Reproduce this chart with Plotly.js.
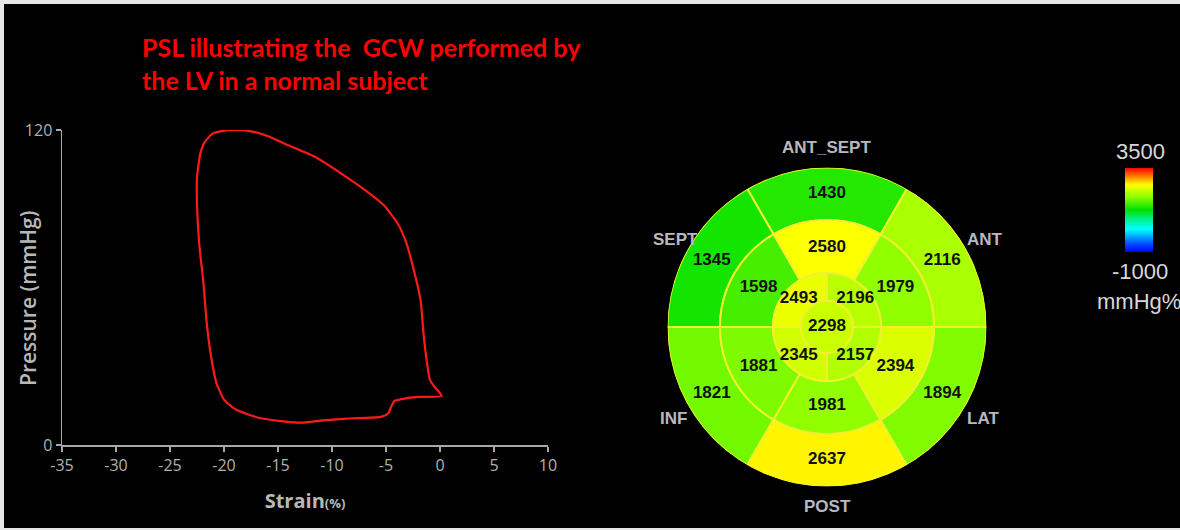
<!DOCTYPE html>
<html>
<head>
<meta charset="utf-8">
<script src="https://cdn.plot.ly/plotly-3.0.1.min.js"></script>
<style>
  html, body { margin: 0; padding: 0; background: #ffffff; }
  #chart { width: 1180px; height: 530px; }
</style>
</head>
<body>
<div id="chart"></div>
<script>
// ---------- Pressure-strain loop ----------
const strain = [-18.9, -17.5, -16.1, -14.0, -11.5, -9.1, -6.9, -5.2, -3.9, -3.1, -2.35, -1.8, -1.5, -1.2, -0.95, -0.65,
  0.15, -2.0, -3.4, -4.2, -4.5, -4.8, -5.5, -8.4, -10.8, -12.8, -14.7, -16.8, -18.9, -20.0, -20.7, -21.2, -21.6,
  -21.9, -22.3, -22.5, -22.5, -22.2, -21.8, -21.1, -20.35, -18.9];
const pressure = [120.0, 119.5, 117.9, 114.1, 109.6, 103.3, 97.0, 91.3, 84.3, 76.8, 65.4, 55.3, 41.3, 31.2, 25.0, 22.9,
  18.7, 18.3, 17.6, 16.8, 14.8, 12.0, 10.7, 10.1, 9.4, 8.5, 9.1, 10.4, 13.5, 17.3, 23.6, 33.8, 46.4,
  61.6, 76.8, 91.9, 102.0, 110.9, 115.3, 118.5, 119.5, 120.0];
const strainTicks = [-35, -30, -25, -20, -15, -10, -5, 0, 5, 10];
const pressureTicks = [0, 120];
const xTitle = 'Strain';
const xUnit = '(%)';
const yTitle = 'Pressure (mmHg)';

// ---------- Bull's-eye (constructive work, mmHg%) ----------
const sixAngles = [30, 90, 150, 210, 270, 330];
const fourAngles = [45, 135, 225, 315];
const wallNames = ['ANT', 'ANT_SEPT', 'SEPT', 'INF', 'POST', 'LAT'];
const basalValues = [2116, 1430, 1345, 1821, 2637, 1894];
const midValues = [1979, 2580, 1598, 1881, 1981, 2394];
const apicalValues = [2196, 2493, 2345, 2157];
const apexValue = 2298;
const colorMin = -1000;
const colorMax = 3500;
const colorUnit = 'mmHg%';

// ring geometry (pixels of polar radius)
const R_APEX = 26, R_API = 54, R_MID = 107, R_OUT = 159.5;

const W = 1180, H = 530;
const px = x => x / W;
const py = y => 1 - y / H;

const cs = [
  [0.00, '#0000ff'], [0.10, '#0050ff'], [0.27, '#00ffff'], [0.40, '#00f080'],
  [0.50, '#00e000'], [0.66, '#90ff00'], [0.80, '#ffff00'], [0.90, '#ff8000'], [1.00, '#ff0000']
];

const segLine = {color: '#f0f030', width: 2};

const traces = [
  {
    type: 'scatter', mode: 'lines', x: strain, y: pressure,
    line: {color: '#ff1a1a', width: 2.2, shape: 'spline', smoothing: 0.5},
    hoverinfo: 'skip', showlegend: false, xaxis: 'x', yaxis: 'y'
  },
  {
    type: 'barpolar', subplot: 'polar', showlegend: false,
    r: basalValues.map(() => R_OUT - R_MID), base: basalValues.map(() => R_MID),
    theta: sixAngles, width: sixAngles.map(() => 60),
    marker: {color: basalValues, coloraxis: 'coloraxis', line: segLine}
  },
  {
    type: 'barpolar', subplot: 'polar', showlegend: false,
    r: midValues.map(() => R_MID - R_API), base: midValues.map(() => R_API),
    theta: sixAngles, width: sixAngles.map(() => 60),
    marker: {color: midValues, coloraxis: 'coloraxis', line: segLine}
  },
  {
    type: 'barpolar', subplot: 'polar', showlegend: false,
    r: apicalValues.map(() => R_API - R_APEX), base: apicalValues.map(() => R_APEX),
    theta: fourAngles, width: fourAngles.map(() => 90),
    marker: {color: apicalValues, coloraxis: 'coloraxis', line: segLine}
  },
  {
    type: 'barpolar', subplot: 'polar', showlegend: false,
    r: [R_APEX], base: [0], theta: [0], width: [360],
    marker: {color: [apexValue], coloraxis: 'coloraxis', line: segLine}
  },
  {
    type: 'scatterpolar', subplot: 'polar', mode: 'text', showlegend: false,
    r: [].concat(sixAngles.map(() => 133), sixAngles.map(() => 79), fourAngles.map(() => 40), [0]),
    theta: [].concat(sixAngles, sixAngles, fourAngles, [0]),
    text: [].concat(basalValues, midValues, apicalValues, [apexValue]).map(String),
    textposition: 'middle center',
    textfont: {family: 'Liberation Sans, Arial, sans-serif', size: 17, color: '#111111', weight: 'bold'},
    hoverinfo: 'skip'
  }
];

const greyAxis = '#a8a8a8';
const tickFont = {family: 'Open Sans, sans-serif', size: 16, color: '#b0b0b0'};
const labelFont = {family: 'Liberation Sans, Arial, sans-serif', size: 17, color: '#b8b8c0', weight: 'bold'};
const cbFont = {family: 'Liberation Sans, Arial, sans-serif', size: 22, color: '#d8d8d8'};
const titleFont = {family: 'Lato, Open Sans, sans-serif', size: 25, color: '#ff0000', weight: 'bold'};

// wall label positions (pixel coords)
const wallLabelPos = {
  'ANT_SEPT': [826, 148, 'center'], 'SEPT': [651, 239, 'left'], 'ANT': [965, 239, 'left'],
  'INF': [658, 418, 'left'], 'LAT': [965, 418, 'left'], 'POST': [827, 506, 'center']
};

const annotations = [
  {text: 'PSL illustrating the  GCW performed by', x: px(140), y: py(47), xanchor: 'left', yanchor: 'middle'},
  {text: 'the LV in a normal subject', x: px(140), y: py(80), xanchor: 'left', yanchor: 'middle'}
].map(a => Object.assign(a, {xref: 'paper', yref: 'paper', showarrow: false, font: titleFont}));

// y-axis title placed as rotated annotation
annotations.push({text: yTitle, x: px(28), y: py(299), xanchor: 'center', yanchor: 'middle', textangle: -90,
  xref: 'paper', yref: 'paper', showarrow: false,
  font: {family: 'Open Sans, sans-serif', size: 21, color: '#b8b8b8', weight: 600}});

wallNames.forEach(n => {
  const p = wallLabelPos[n];
  annotations.push({text: n, x: px(p[0]), y: py(p[1]), xanchor: p[2], yanchor: 'middle',
    xref: 'paper', yref: 'paper', showarrow: false, font: labelFont});
});

annotations.push(
  {text: String(colorMax), x: px(1140), y: py(151), xanchor: 'center', yanchor: 'middle'},
  {text: String(colorMin), x: px(1140), y: py(271), xanchor: 'center', yanchor: 'middle'},
  {text: colorUnit, x: px(1095), y: py(301), xanchor: 'left', yanchor: 'middle'}
);
for (let i = annotations.length - 3; i < annotations.length; i++) {
  Object.assign(annotations[i], {xref: 'paper', yref: 'paper', showarrow: false, font: cbFont});
}

const layout = {
  width: W, height: H,
  margin: {l: 0, r: 0, t: 0, b: 0, pad: 0},
  paper_bgcolor: '#e6e6e6',
  plot_bgcolor: '#000000',
  showlegend: false,
  shapes: [{type: 'rect', xref: 'paper', yref: 'paper', x0: px(4), x1: 1, y0: py(528), y1: py(4),
    fillcolor: '#000000', line: {width: 0}, layer: 'below'}],
  xaxis: {
    domain: [px(62), px(548)], range: [-35, 10], tickvals: strainTicks,
    ticktext: strainTicks.map(String),
    showgrid: false, zeroline: false, showline: true, linecolor: greyAxis, linewidth: 1.5,
    ticks: 'outside', ticklen: 5, tickwidth: 1.5, tickcolor: greyAxis, tickfont: tickFont,
    title: {text: xTitle + '<span style="font-size:13px">' + xUnit + '</span>', standoff: 19,
      font: {family: 'Open Sans, sans-serif', size: 20, color: '#b8b8b8', weight: 'bold'}},
    fixedrange: true
  },
  yaxis: {
    domain: [py(445), py(130)], range: [0, 120], tickvals: pressureTicks,
    ticktext: pressureTicks.map(String),
    showgrid: false, zeroline: false, showline: true, linecolor: greyAxis, linewidth: 1.5,
    ticks: 'outside', ticklen: 5, tickwidth: 1.5, tickcolor: greyAxis, tickfont: tickFont,
    fixedrange: true
  },
  polar: {
    domain: {x: [px(827 - R_OUT), px(827 + R_OUT)], y: [py(327 + R_OUT), py(327 - R_OUT)]},
    bgcolor: 'rgba(0,0,0,0)',
    hole: 0,
    radialaxis: {visible: false, range: [0, R_OUT]},
    angularaxis: {visible: false, rotation: 0, direction: 'counterclockwise'},
    barmode: 'overlay'
  },
  coloraxis: {
    cmin: colorMin, cmax: colorMax, colorscale: cs,
    colorbar: {
      x: px(1125), xanchor: 'left', y: py(168), yanchor: 'top',
      len: 84 / H, lenmode: 'fraction', thickness: 28, thicknessmode: 'pixels',
      xpad: 0, ypad: 0, outlinewidth: 0, ticks: '', showticklabels: false
    }
  },
  annotations: annotations
};

Plotly.newPlot('chart', traces, layout, {displayModeBar: false, staticPlot: true});
</script>
</body>
</html>
